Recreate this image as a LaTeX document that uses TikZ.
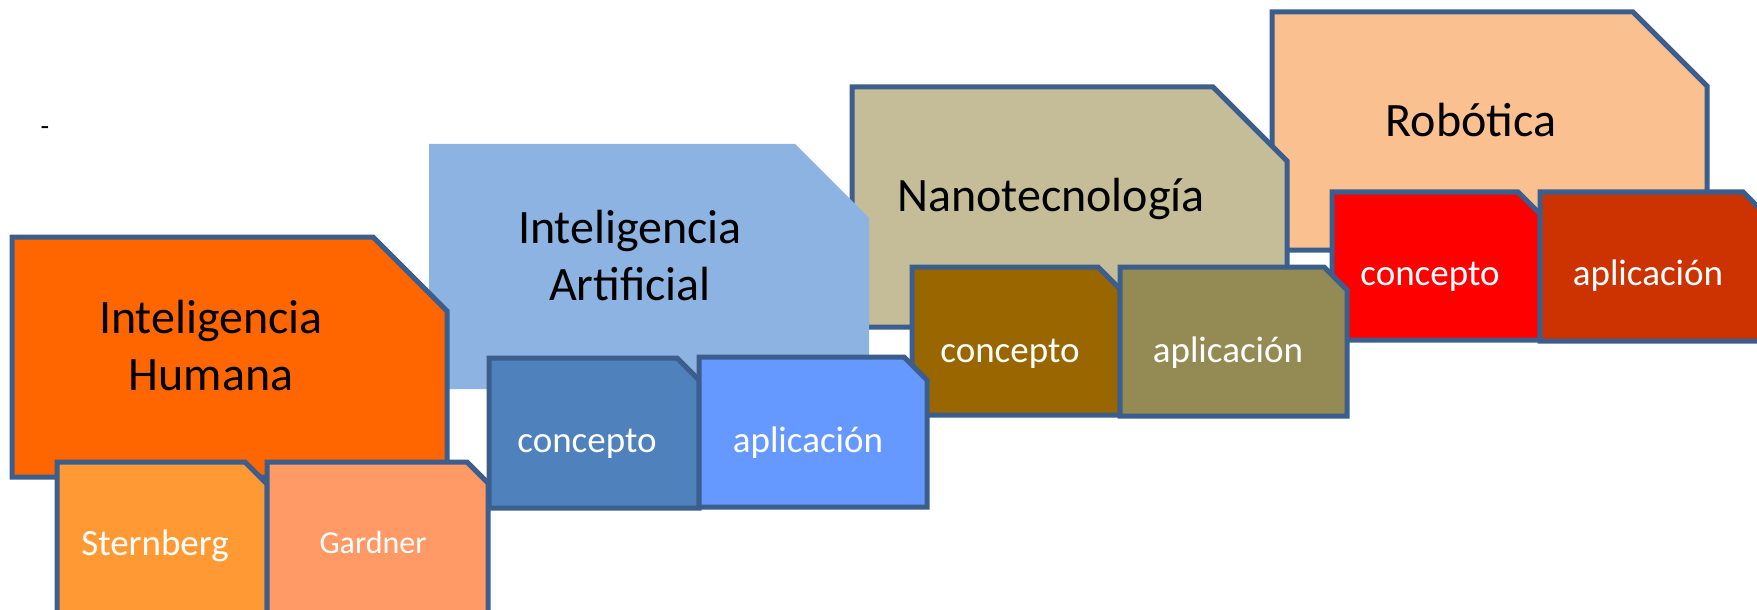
\documentclass[tikz,border=0pt]{standalone}
\usepackage{fontspec}
\setmainfont{Carlito}
\definecolor{bordc}{HTML}{3B5E8C}
\definecolor{cIH}{HTML}{FF6600}
\definecolor{cSt}{HTML}{FF9933}
\definecolor{cGa}{HTML}{FF9966}
\definecolor{cIA}{HTML}{8DB3E2}
\definecolor{cIAc}{HTML}{4F81BD}
\definecolor{cIAa}{HTML}{6699FF}
\definecolor{cNa}{HTML}{C4BD97}
\definecolor{cNac}{HTML}{996600}
\definecolor{cNaa}{HTML}{948A54}
\definecolor{cRo}{HTML}{FAC090}
\definecolor{cRoc}{HTML}{FF0000}
\definecolor{cRoa}{HTML}{CC3300}
\newcommand{\cutbox}[7][draw=bordc]{\path[#1, line width=2.5pt, fill=#2] (#3,#4) -- ({#5-#7},#4) -- (#5,{#4+#7}) -- (#5,#6) -- (#3,#6) -- cycle;}
\tikzset{
  bigtext/.style={anchor=base, align=center, text=black, inner sep=0pt, font=\fontsize{24}{28.5}\selectfont},
  smalltext/.style={anchor=base, text=white, inner sep=0pt, font=\fontsize{18.5}{22}\selectfont},
}
\begin{document}
\begin{tikzpicture}[x=0.5pt, y=-0.5pt]
\useasboundingbox (0,0) rectangle (1757,610);
\clip (0,0) rectangle (1757,610);
% Robotica group
\cutbox{cRo}{1272}{12}{1707}{250}{74}
\cutbox{cRoc}{1332}{192}{1540}{340}{22}
\cutbox{cRoa}{1540}{192}{1765}{341}{22}
\node[bigtext] (rob) at (1471,137) {Robótica};
\node[smalltext] (robc) at (1430,285) {concepto};
\node[smalltext] (roba) at (1648,285) {aplicación};
% Nanotecnologia group
\cutbox{cNa}{852}{87}{1287}{327}{74}
\cutbox{cNac}{912}{267}{1120}{415}{22}
\cutbox{cNaa}{1120}{267}{1347}{416}{23}
\node[bigtext] (nano) at (1051,212) {Nanotecnología};
\node[smalltext] (nanoc) at (1010,362) {concepto};
\node[smalltext] (nanoa) at (1228,362) {aplicación};
% Inteligencia Artificial group
\cutbox[draw=none]{cIA}{429}{144}{869}{389}{74}
\cutbox{cIAc}{489}{358}{699}{508}{22}
\cutbox{cIAa}{699}{357}{927}{507}{23}
\node[bigtext] (ia) at (630,300) {Inteligencia\\Artificial};
\node[smalltext] (iac) at (587,452) {concepto};
\node[smalltext] (iaa) at (808,452) {aplicación};
% Inteligencia Humana group
\cutbox{cIH}{12}{237}{447}{477}{74}
\cutbox{cSt}{57}{462}{267}{620}{22}
\cutbox{cGa}{267}{462}{488}{620}{21}
\node[bigtext] (ih) at (211,390) {Inteligencia\\Humana};
\node[smalltext] (st) at (155,555) {Sternberg};
\node[smalltext, font=\fontsize{16}{20}\selectfont] (ga) at (373,553) {Gardner};
% dash
\node[anchor=base, inner sep=0pt, font=\fontsize{14}{17}\selectfont] (dash) at (45,136) {-};
\end{tikzpicture}
\end{document}
